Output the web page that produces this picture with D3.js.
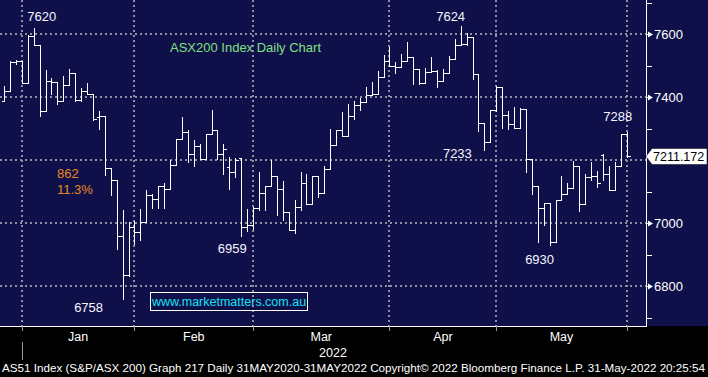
<!DOCTYPE html>
<html>
<head>
<meta charset="utf-8">
<script src="https://cdn.jsdelivr.net/npm/d3@7"></script>
<style>
  html, body { margin: 0; padding: 0; background: #000; }
  svg { display: block; }
  text { font-family: "Liberation Sans", Arial, sans-serif; }
</style>
</head>
<body>
<div id="chart"></div>
<script>
// daily OHLC, ASX200, late Dec 2021 -> 31 May 2022 (one entry per trading day)
const opens = [7388,7420,7510,7513,7443,7594,7564,7357,7451,7447,7388,7437,7475,7390,7418,7409,7335,7340,7176,7137,
  6959,6836,6987,6970,7004,7090,7077,7119,7109,7185,7268,7288,7218,7244,7204,7284,7294,7220,7178,7161,
  7206,6987,6995,7047,7095,7117,7150,7108,7036,6978,7050,7128,7061,7148,7096,7173,7249,7294,7277,7340,
  7375,7385,7405,7411,7462,7513,7500,7494,7513,7526,7490,7443,7479,7483,7451,7477,7521,7564,7568,7592,
  7473,7316,7258,7358,7432,7343,7314,7303,7362,7204,7119,7048,7063,6941,7074,7091,7112,7182,7061,7146,
  7148,7215,7154,7106,7182,7284];
const highs = [7434,7515,7519,7515,7597,7620,7564,7485,7459,7447,7466,7488,7475,7427,7443,7409,7356,7340,7176,7137,
  7042,7003,7006,7043,7106,7093,7119,7128,7199,7268,7337,7294,7263,7250,7284,7358,7294,7250,7210,7206,
  7206,7045,7050,7161,7117,7199,7150,7132,7036,7072,7161,7154,7148,7148,7180,7299,7294,7352,7377,7388,
  7398,7432,7447,7483,7534,7558,7511,7535,7575,7526,7490,7492,7526,7485,7488,7530,7583,7624,7604,7592,
  7473,7316,7358,7434,7432,7354,7367,7364,7362,7204,7119,7063,7063,7074,7148,7128,7197,7182,7154,7195,
  7165,7218,7180,7195,7284,7288];
const lows = [7388,7420,7505,7443,7443,7564,7340,7357,7411,7379,7388,7437,7388,7388,7409,7328,7299,7152,7089,6919,
  6758,6833,6934,6946,7004,7047,7047,7047,7109,7185,7268,7194,7181,7204,7204,7284,7204,7156,7109,7146,
  6959,6976,6981,7040,7040,7117,7025,7010,6978,6969,7042,7061,7061,7084,7096,7173,7249,7277,7277,7331,
  7358,7385,7405,7411,7462,7500,7477,7494,7513,7440,7440,7443,7479,7432,7451,7477,7521,7564,7564,7458,
  7292,7233,7258,7356,7303,7299,7303,7303,7162,7093,6939,6995,6930,6941,7074,7091,7112,7038,7061,7137,
  7114,7137,7106,7106,7182,7210];
const closes = [7420,7511,7513,7443,7594,7564,7357,7451,7447,7388,7437,7475,7390,7420,7409,7331,7340,7176,7137,6959,
  6836,6987,6970,7004,7090,7077,7119,7109,7185,7268,7288,7218,7244,7204,7284,7294,7220,7236,7161,7199,
  6987,6995,7047,7095,7117,7150,7108,7036,6978,7050,7128,7061,7148,7096,7173,7249,7294,7277,7340,7375,
  7385,7405,7411,7462,7513,7500,7494,7513,7526,7490,7443,7479,7483,7451,7477,7521,7564,7568,7592,7473,
  7316,7258,7358,7432,7343,7314,7303,7362,7204,7119,7048,7063,6941,7074,7091,7112,7182,7061,7146,7148,
  7128,7154,7106,7182,7284,7211.172];

// last trading day of each month (bar index) and the month labels between them
const monthEnds = [3, 22, 42, 65, 83, 105];
const monthNames = ["Jan", "Feb", "Mar", "Apr", "May"];
const yearLabel = "2022";

const gridValues = [7600, 7400, 7200, 7000, 6800];
const labelValues = [7600, 7400, 7000, 6800];
const minorValues = [7700, 7500, 7300, 7100, 6900, 6700];
const lastPrice = 7211.172;

// price call-outs: bar index, which extreme, text, offset of the baseline from it
const callouts = [
  { i: 5,   at: "high", text: "7620", dx: 8,   dy: -7 },
  { i: 20,  at: "low",  text: "6758", dx: -34, dy: 12.5 },
  { i: 40,  at: "low",  text: "6959", dx: -9,  dy: 17.5 },
  { i: 77,  at: "high", text: "7624", dx: -10, dy: -5 },
  { i: 81,  at: "low",  text: "7233", dx: -27, dy: 8 },
  { i: 92,  at: "low",  text: "6930", dx: -10, dy: 18.5 },
  { i: 105, at: "high", text: "7288", dx: -9,  dy: -11 }
];

const W = 708, H = 377;
const plotBottom = 326, axisX = 646;
const navy = "#0f0f4a";

const svg = d3.select("#chart").append("svg")
  .attr("width", W).attr("height", H);

svg.append("rect").attr("width", W).attr("height", H).attr("fill", "#000");
svg.append("rect").attr("width", W).attr("height", plotBottom).attr("fill", navy);

const x = d3.scaleLinear().domain([0, 105]).range([4, 626.7]);
const y = d3.scaleLinear().domain([6800, 7600]).range([286, 34]);
const px = v => Math.round(v) + 0.5;

// dotted grid
const grid = svg.append("g")
  .attr("stroke", "#8e8ea0").attr("stroke-width", 2).attr("stroke-dasharray", "2,3");
grid.selectAll("line.h").data(gridValues).join("line")
  .attr("x1", 0).attr("x2", axisX)
  .attr("y1", d => Math.round(y(d))).attr("y2", d => Math.round(y(d)));
grid.selectAll("line.v").data(monthEnds).join("line")
  .attr("x1", d => Math.round(x(d))).attr("x2", d => Math.round(x(d)))
  .attr("y1", 0).attr("y2", plotBottom);

// OHLC bars
const bars = svg.append("g")
  .attr("stroke", "#fff").attr("stroke-width", 1).attr("shape-rendering", "crispEdges");
d3.range(opens.length).forEach(i => {
  const cx = px(x(i));
  bars.append("line")
    .attr("x1", cx).attr("x2", cx)
    .attr("y1", px(y(highs[i])) - 0.5).attr("y2", px(y(lows[i])) + 0.5);
  bars.append("line")
    .attr("x1", cx - 3).attr("x2", cx)
    .attr("y1", px(y(opens[i]))).attr("y2", px(y(opens[i])));
  bars.append("line")
    .attr("x1", cx).attr("x2", cx + 3)
    .attr("y1", px(y(closes[i]))).attr("y2", px(y(closes[i])));
});

// frame: bottom and right axis lines
const frame = svg.append("g").attr("stroke", "#fff").attr("shape-rendering", "crispEdges");
frame.append("line").attr("x1", 0).attr("x2", axisX + 0.5)
  .attr("y1", plotBottom + 0.5).attr("y2", plotBottom + 0.5);
frame.append("line").attr("x1", axisX + 0.5).attr("x2", axisX + 0.5)
  .attr("y1", 0).attr("y2", plotBottom + 0.5);

// right axis
frame.selectAll("line.minor").data(minorValues).join("line")
  .attr("x1", axisX).attr("x2", axisX + 6)
  .attr("y1", d => px(y(d))).attr("y2", d => px(y(d)));
svg.selectAll("path.flag").data(labelValues).join("path")
  .attr("d", d => {
    const yy = Math.round(y(d)) + 0.5;
    return `M${axisX},${yy - 0.5}L${axisX + 2},${yy - 0.5}L${axisX + 2},${yy - 3}L${axisX + 7},${yy}L${axisX + 2},${yy + 3}L${axisX + 2},${yy + 0.5}L${axisX},${yy + 0.5}Z`;
  })
  .attr("fill", "#fff");
svg.selectAll("text.ylab").data(labelValues).join("text")
  .attr("x", axisX + 8).attr("y", d => y(d) + 5)
  .attr("fill", "#fff").attr("font-size", 13)
  .text(d => d);

// last price tag
const ly = y(lastPrice);
svg.append("path")
  .attr("d", `M${axisX},${ly}L${axisX + 6},${ly - 8}L707,${ly - 8}L707,${ly + 8}L${axisX + 6},${ly + 8}Z`)
  .attr("fill", "#fff").attr("stroke", "#000").attr("stroke-width", 0.5);
svg.append("text").attr("x", axisX + 7).attr("y", ly + 4.5)
  .attr("fill", "#000").attr("font-size", 12.5)
  .text(lastPrice.toFixed(3));

// month axis
const axisG = svg.append("g").attr("shape-rendering", "crispEdges");
axisG.selectAll("line").data(monthEnds).join("line")
  .attr("x1", d => px(x(d))).attr("x2", d => px(x(d)))
  .attr("y1", plotBottom).attr("y2", plotBottom + 5)
  .attr("stroke", "#999");
axisG.append("line")
  .attr("x1", px(x(monthEnds[0]))).attr("x2", px(x(monthEnds[0])))
  .attr("y1", 342).attr("y2", 360).attr("stroke", "#999");
svg.selectAll("text.month").data(monthNames).join("text")
  .attr("x", (d, k) => (x(monthEnds[k]) + x(monthEnds[k + 1])) / 2)
  .attr("y", 341).attr("text-anchor", "middle")
  .attr("fill", "#fff").attr("font-size", 12.5)
  .text(d => d);
svg.append("text").attr("x", 333).attr("y", 357).attr("text-anchor", "middle")
  .attr("fill", "#fff").attr("font-size", 12.5).text(yearLabel);

// footer
svg.append("text").attr("x", 2).attr("y", 372)
  .attr("fill", "#fff").attr("font-size", 11.5)
  .attr("textLength", 703).attr("lengthAdjust", "spacingAndGlyphs")
  .text("AS51 Index (S&P/ASX 200) Graph 217  Daily 31MAY2020-31MAY2022    Copyright\u00a9 2022 Bloomberg Finance L.P.    31-May-2022 20:25:54");

// annotations
svg.append("text").attr("x", 170).attr("y", 52)
  .attr("fill", "#80e080").attr("font-size", 13)
  .text("ASX200 Index Daily Chart");
svg.append("text").attr("x", 57).attr("y", 178)
  .attr("fill", "#e8891e").attr("font-size", 13).text("862");
svg.append("text").attr("x", 57).attr("y", 194)
  .attr("fill", "#e8891e").attr("font-size", 13).text("11.3%");

svg.selectAll("text.callout").data(callouts).join("text")
  .attr("x", d => x(d.i) + d.dx)
  .attr("y", d => y(d.at === "high" ? highs[d.i] : lows[d.i]) + d.dy)
  .attr("text-anchor", "middle")
  .attr("fill", "#f4f6ff").attr("font-size", 13)
  .text(d => d.text);

// website box
svg.append("rect").attr("x", 150.5).attr("y", 292.5).attr("width", 157).attr("height", 18)
  .attr("fill", "none").attr("stroke", "#fff").attr("stroke-width", 1);
svg.append("text").attr("x", 229).attr("y", 306).attr("text-anchor", "middle")
  .attr("fill", "#19e0f0").attr("font-size", 12.5)
  .text("www.marketmatters.com.au");
</script>
</body>
</html>
